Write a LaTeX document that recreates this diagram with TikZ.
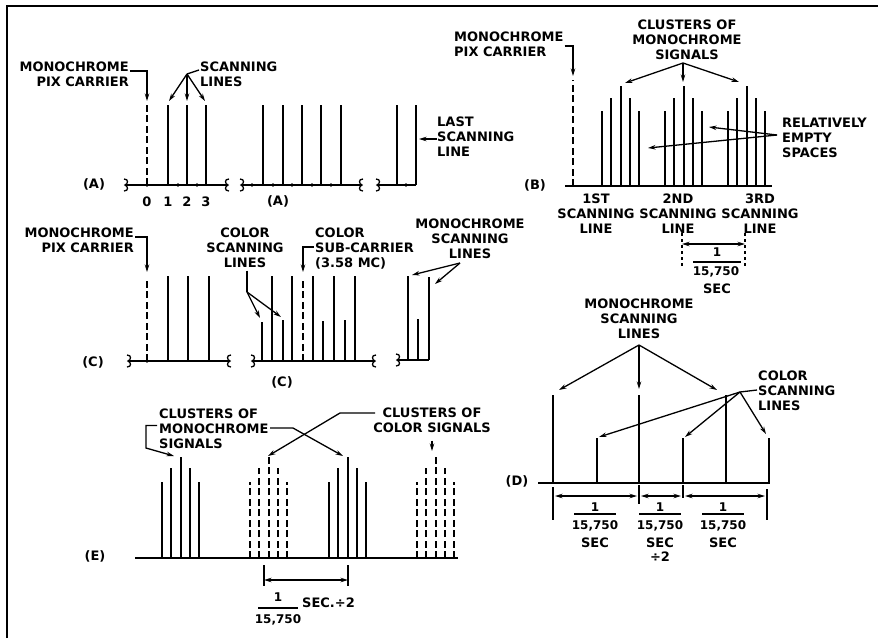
\documentclass[tikz,border=0pt]{standalone}
\usepackage{fontspec}
\setmainfont{DejaVu Sans}
\usetikzlibrary{arrows.meta,positioning}

\tikzset{
  lbl/.style={font=\bfseries\fontsize{13}{15}\selectfont, inner sep=0pt},
  frac/.style={font=\bfseries\fontsize{12}{13}\selectfont, inner sep=0pt},
  sig/.style={line width=2pt},
  shortsig/.style={line width=2.6pt},
  carrier/.style={line width=2pt, dash pattern=on 7pt off 3.5pt},
  axis/.style={line width=2.2pt},
  conn/.style={line width=1.3pt},
}

% break mark on the frequency axis
\newcommand{\axbreak}[3]{%
  \draw[line width=1.3pt] ({#1-(#3)},{#2-6}) .. controls ({#1+4*(#3)},{#2-6}) and ({#1+3*(#3)},{#2-1}) .. (#1,#2)
    .. controls ({#1+3*(#3)},{#2+1}) and ({#1+4*(#3)},{#2+6}) .. ({#1-(#3)},{#2+6});}

\begin{document}
\begin{tikzpicture}[x=1pt, y=-1pt, >={Stealth[length=7.5pt,width=4.5pt]}]
    \useasboundingbox (0,0) rectangle (878,638);
    \draw[line width=2.4pt] (7,638) -- (7,6) -- (878,6);

    % (A)
    \draw[axis] (125,185) -- (228,185);
    \draw[axis] (241,185) -- (362,185);
    \draw[axis] (377,185) -- (416,185);
    \axbreak{125}{185}{1} \axbreak{228}{185}{-1}
    \axbreak{241}{185}{1} \axbreak{362}{185}{-1}
    \axbreak{377}{185}{1}
    \draw[carrier] (147,185) -- (147,105);
    \foreach \x in {168,187,206,263,283,302,321,341,397,416}
        \draw[sig] (\x,185) -- (\x,105);
    \foreach \x in {147,178,197,252,273,292,312,331,406}
        \fill (\x,185) circle (1.8pt);
    \node[lbl] (labA) at (94,184) {(A)};
    \node[lbl] (labA2) at (278,201) {(A)};
    \foreach \x/\n in {147/0,168/1,187/2,206/3}
        \node[lbl] (numA\n) at (\x,202) {\n};

    \node[lbl, align=right, anchor=north east] (monoA) at (129,62) {MONOCHROME\\PIX CARRIER};
    \coordinate (carA) at (147,101);
    \draw[conn,->] (monoA.north east) ++(1,9) -| (carA);

    \node[lbl, align=left, anchor=north west] (scanA) at (200,62) {SCANNING\\LINES};
    \coordinate (fanA) at (187,74);
    \foreach \x [count=\i] in {169,187,205}
        \coordinate (topA\i) at (\x,101);
    \draw[conn] (scanA.north west) ++(-1,8) -- (fanA);
    \foreach \i in {1,2,3}
        \draw[conn,->] (fanA) -- (topA\i);

    \node[lbl, align=left, anchor=north west] (lastA) at (437,117) {LAST\\SCANNING\\LINE};
    \coordinate (lastTip) at (419,139);
    \draw[conn,->] (lastA.west |- lastTip) -- (lastTip);

    % (B)
    \draw[axis] (565,186) -- (772,186);
    \draw[carrier] (573,186) -- (573,80);
    \foreach \c in {602,665,728}
        \foreach \d/\h in {0/111,9.25/98,18.5/86,27.75/98,37/111}
            \draw[sig] (\c+\d,186) -- (\c+\d,\h);
    \node[lbl] (labB) at (535,185) {(B)};

    \node[lbl, align=left, anchor=north west] (monoB) at (454,32) {MONOCHROME\\PIX CARRIER};
    \coordinate (carB) at (573,76);
    \draw[conn,->] (monoB.north east) ++(1,14) -| (carB);

    \node[lbl, align=center, anchor=north] (clusB) at (687,19.5) {CLUSTERS OF\\MONOCHROME\\SIGNALS};
    \coordinate (apexB) at (683,63);
    \draw[conn,->] (apexB) -- (625,83);
    \draw[conn,->] (apexB) -- (683,82);
    \draw[conn,->] (apexB) -- (739,82);

    \node[lbl, align=left, anchor=north west] (relB) at (782,117.5) {RELATIVELY\\EMPTY\\SPACES};
    \coordinate (relApex) at (777,135);
    \draw[conn,->] (relApex) -- (709,127);
    \draw[conn,->] (relApex) -- (648,148);

    \node[lbl, align=center, anchor=north] (firstB) at (596,193.5) {1ST\\SCANNING\\LINE};
    \node[lbl, align=center, anchor=north] (secondB) at (678,193.5) {2ND\\SCANNING\\LINE};
    \node[lbl, align=center, anchor=north] (thirdB) at (760,193.5) {3RD\\SCANNING\\LINE};

    \draw[conn, dashed] (682,233) -- (682,267);
    \draw[conn, dashed] (745,233) -- (745,267);
    \draw[conn,<->] (682,244) -- (745,244);
    \node[frac] (oneB) at (717,252) {1};
    \draw[line width=1.2pt] (693,262) -- (741,262);
    \node[frac] (denB) at (716,272) {15,750};
    \node[lbl] (secB) at (717,289) {SEC};

    % (C)
    \draw[axis] (128,361) -- (230,361);
    \draw[axis] (252,361) -- (375,361);
    \draw[axis] (397,360) -- (429,360);
    \axbreak{128}{361}{1} \axbreak{230}{361}{-1}
    \axbreak{252}{361}{1} \axbreak{375}{361}{-1}
    \axbreak{397}{360}{1}
    \draw[carrier] (147,361) -- (147,277);
    \fill (147,361) circle (1.8pt);
    \foreach \x in {168,188,209}
        \draw[sig] (\x,361) -- (\x,276);
    \foreach \x/\h in {262/322,272/276,283/320,292/276,313/276,323/321,334/276,345/320,355/276}
        \draw[sig] (\x,361) -- (\x,\h);
    \draw[carrier] (303,361) -- (303,277);
    \foreach \x/\h in {408/276,418/319,429/277}
        \draw[sig] (\x,360) -- (\x,\h);
    \node[lbl] (labC) at (93,362) {(C)};
    \node[lbl] (labC2) at (282,382) {(C)};

    \node[lbl, align=right, anchor=north east] (monoC) at (134,227.5) {MONOCHROME\\PIX CARRIER};
    \coordinate (carC) at (147,272);
    \draw[conn,->] (monoC.north east) ++(1,9.5) -| (carC);

    \node[lbl, align=center, anchor=north] (colC) at (245,227.5) {COLOR\\SCANNING\\LINES};
    \coordinate (colBend) at (247,292);
    \draw[conn] (colC.south) ++(2,3) -- (colBend);
    \draw[conn,->] (colBend) -- (260,318);
    \draw[conn,->] (colBend) -- (281,317);

    \node[lbl, align=left, anchor=north west] (subC) at (315,227.5) {COLOR\\SUB-CARRIER\\(3.58 MC)};
    \coordinate (subTip) at (303,272);
    \draw[conn,->] (subC.north west) ++(-1,19.5) -| (subTip);

    \node[lbl, align=center, anchor=north] (monoC2) at (470,218.5) {MONOCHROME\\SCANNING\\LINES};
    \coordinate (apexC) at (460,263);
    \draw[conn,->] (apexC) -- (412,275);
    \draw[conn,->] (apexC) -- (435,284);

    % (D)
    \draw[axis] (538,483) -- (770,483);
    \foreach \x in {553,639,726}
        \draw[sig] (\x,483) -- (\x,395);
    \foreach \x in {597,683,769}
        \draw[shortsig] (\x,483) -- (\x,438);
    \node[lbl] (labD) at (517,481) {(D)};

    \node[lbl, align=center, anchor=north] (monoD) at (639,298.5) {MONOCHROME\\SCANNING\\LINES};
    \coordinate (apexD) at (639,345);
    \draw[conn,->] (apexD) -- (559,390);
    \draw[conn,->] (apexD) -- (639,389);
    \draw[conn,->] (apexD) -- (717,390);

    \node[lbl, align=left, anchor=north west] (colD) at (758,370.5) {COLOR\\SCANNING\\LINES};
    \coordinate (colApexD) at (740,392);
    \draw[conn] (colD.north west) ++(-1,19.5) -- (colApexD);
    \draw[conn,->] (colApexD) -- (599,437);
    \draw[conn,->] (colApexD) -- (685,437);
    \draw[conn,->] (colApexD) -- (766,434);

    \draw[conn] (553,487) -- (553,520);
    \draw[conn] (639,485) -- (639,504);
    \draw[conn] (683,485) -- (683,498);
    \draw[conn] (767,489) -- (767,520);
    \draw[conn,<->] (555,496) -- (637,496);
    \draw[conn,<->] (641,496) -- (681,496);
    \draw[conn,<->] (685,496) -- (765,496);
    \foreach \x [count=\i] in {595,660,723} {
        \node[frac] (oneD\i) at (\x,507) {1};
        \draw[line width=1.2pt] (\x-21,514) -- (\x+21,514);
        \node[frac] (denD\i) at (\x,526) {15,750};
        \node[lbl] (secD\i) at (\x,543) {SEC};
    }
    \node[lbl] (divD) at (660,557) {÷2};

    % (E)
    \draw[axis] (135,558) -- (458,558);
    \foreach \c/\s in {162/sig,250/carrier,329/sig,417/carrier}
        \foreach \d/\h in {0/482,9/468,18.5/457,28/468,37/482}
            \draw[\s] (\c+\d,558) -- (\c+\d,\h);
    \node[lbl] (labE) at (95,556) {(E)};

    \node[lbl, align=left, anchor=north west] (clusE1) at (159,408.5) {CLUSTERS OF\\MONOCHROME\\SIGNALS};
    \coordinate (brE) at (146,448);
    \coordinate (tipE1) at (174,456);
    \draw[conn,->] (clusE1.north west) ++(-2,17) -| (brE) -- (tipE1);
    \coordinate (kinkE1) at (293,428);
    \coordinate (tipE2) at (343,456);
    \draw[conn,->] (clusE1.north west) ++(111,19.5) -- (kinkE1) -- (tipE2);

    \node[lbl, align=center, anchor=north] (clusE2) at (432,407.5) {CLUSTERS OF\\COLOR SIGNALS};
    \coordinate (kinkE2) at (340,413);
    \coordinate (tipE3) at (268,456);
    \draw[conn,->] (clusE2.north west) ++(2,5.5) -- (kinkE2) -- (tipE3);
    \coordinate (tipE4) at (432,451);
    \draw[conn,->] (clusE2.south) ++(0,8) -- (tipE4);

    \draw[conn] (264,565) -- (264,586);
    \draw[conn] (348,565) -- (348,586);
    \draw[conn,<->] (264,580) -- (348,580);
    \node[frac] (oneE) at (278,597) {1};
    \draw[line width=1.2pt] (258,608) -- (298,608);
    \node[frac] (denE) at (278,620) {15,750};
    \node[lbl, anchor=west] (secE) at (302,603) {SEC.÷2};
\end{tikzpicture}
\end{document}
